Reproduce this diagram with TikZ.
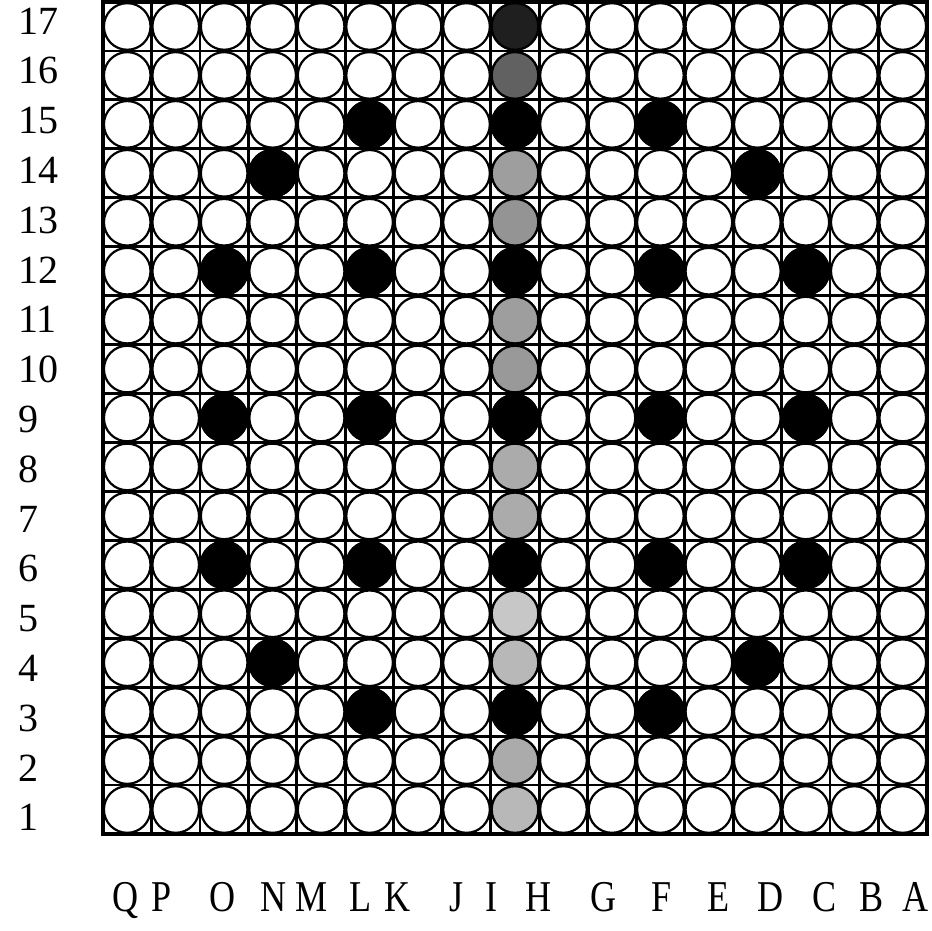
\documentclass[tikz,border=0pt]{standalone}
\usepackage{fontspec}
\setmainfont{Liberation Serif}
\begin{document}
\begin{tikzpicture}[x=1pt,y=-1pt,
  gridline/.style={line width=2.8pt,black},
  frame/.style={line width=3.6pt,black},
  hole/.style={circle,draw=black,line width=2.2pt,fill=white,minimum size=46.6pt,inner sep=0pt},
  rowlab/.style={anchor=base west,font=\fontsize{40}{40}\selectfont,inner sep=0pt},
  collab/.style={anchor=base,font=\fontsize{44}{44}\selectfont,inner sep=0pt,xscale=0.82}]
\useasboundingbox[fill=white] (0,0) rectangle (932,930);
\def\xo{103}\def\cw{48.47}\def\yo{2}\def\ch{48.94}
% grid lines
\foreach \i in {1,...,16}{
  \draw[gridline] ({\xo+\i*\cw},\yo) -- ({\xo+\i*\cw},{\yo+17*\ch});
  \draw[gridline] (\xo,{\yo+\i*\ch}) -- ({\xo+17*\cw},{\yo+\i*\ch});
}
\draw[frame] (\xo,\yo) rectangle ({\xo+17*\cw},{\yo+17*\ch});
% white holes
\foreach \c in {1,...,17}{
  \foreach \r in {1,...,17}{
    \node[hole] (h\c-\r) at ({\xo+(\c-0.5)*\cw},{\yo+(17-\r+0.5)*\ch}) {};
  }
}
% black holes
\foreach \c/\r in {6/15,9/15,12/15,4/14,14/14,3/12,6/12,9/12,12/12,15/12,
  3/9,6/9,9/9,12/9,15/9,3/6,6/6,9/6,12/6,15/6,4/4,14/4,6/3,9/3,12/3}{
  \node[hole,fill=black] (b\c-\r) at ({\xo+(\c-0.5)*\cw},{\yo+(17-\r+0.5)*\ch}) {};
}
% grey holes in column I
\foreach \r/\s in {17/88,16/62,14/38,13/42,11/38,10/40,8/33,7/33,5/22,4/28,2/33,1/28}{
  \node[hole,fill=black!\s] (g\r) at ({\xo+8.5*\cw},{\yo+(17-\r+0.5)*\ch}) {};
}
% row labels
\foreach \n in {1,...,17}{
  \node[rowlab] (r\n) at (18,{34+(17-\n)*49.8}) {\n};
}
% column labels
\foreach \l/\x in {Q/126,P/162,O/223,N/274,M/312,L/361,K/398,J/457,I/492,H/539,G/604,F/662,E/719,D/771,C/825,B/872,A/916}{
  \node[collab] (l\l) at (\x,911) {\l};
}
\end{tikzpicture}
\end{document}
